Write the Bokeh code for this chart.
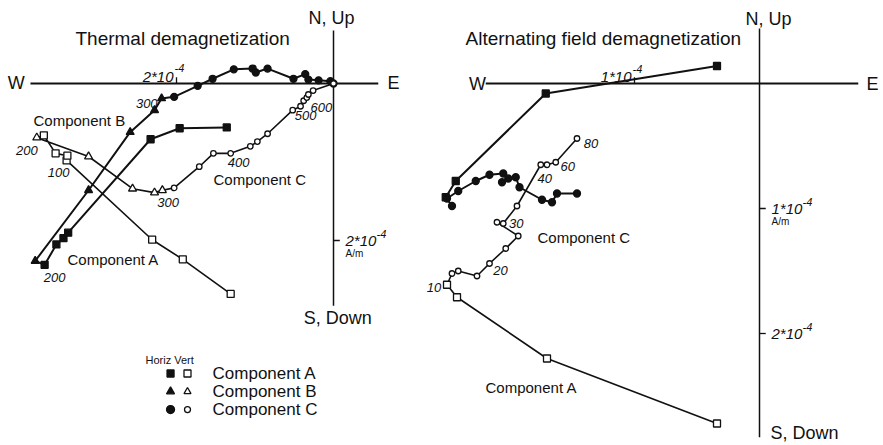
from bokeh.plotting import figure
from bokeh.models import Range1d
from bokeh.core.properties import value
from bokeh.embed import file_html
from bokeh.resources import INLINE

# Zijderveld diagrams, values in units of 1e-4 A/m.
# Horizontal projection: (East, North); vertical projection: (East, Up).

# ---- Thermal demagnetization ----
th_a_h_east = [-1.36, -1.96, -2.33, -3.38, -3.44, -3.53, -3.68]
th_a_h_north = [-0.56, -0.57, -0.71, -1.90, -1.97, -2.05, -2.31]
th_a_v_east = [-1.31, -1.92, -2.31, -3.40, -3.39, -3.54, -3.69]
th_a_v_up = [-2.68, -2.24, -1.99, -0.98, -0.92, -0.89, -0.66]

th_b_h_east = [-3.80, -3.12, -2.59, -2.28, -2.19]
th_b_h_north = [-2.26, -1.36, -0.62, -0.34, -0.19]
th_b_v_east = [-3.78, -3.12, -2.56, -2.28, -2.18]
th_b_v_up = [-0.69, -0.93, -1.34, -1.39, -1.36]

th_c_h_east = [-2.03, -1.73, -1.54, -1.27, -1.03, -0.99, -0.84, -0.51, -0.36, -0.32, -0.19, -0.04, 0.0]
th_c_h_north = [-0.17, -0.03, 0.06, 0.18, 0.19, 0.14, 0.19, 0.06, 0.12, 0.05, 0.04, 0.03, 0.0]
th_c_v_east = [-2.03, -1.71, -1.53, -1.31, -1.06, -0.97, -0.84, -0.52, -0.42, -0.38, -0.34, -0.32, -0.26, 0.0]
th_c_v_up = [-1.33, -1.06, -0.89, -0.89, -0.80, -0.74, -0.64, -0.34, -0.29, -0.22, -0.18, -0.14, -0.09, 0.0]

th_ticks = [2]

# ---- Alternating field demagnetization ----
af_a_h_east = [-0.34, -1.71, -2.43, -2.51]
af_a_h_north = [0.14, -0.08, -0.78, -0.91]
af_a_v_east = [-0.34, -1.70, -2.42, -2.50]
af_a_v_up = [-2.72, -2.20, -1.71, -1.61]

af_c_h_east = [-2.46, -2.50, -2.41, -2.27, -2.16, -2.05, -2.01, -2.06, -1.95, -1.92, -1.74, -1.66, -1.62, -1.46]
af_c_h_north = [-0.98, -0.92, -0.86, -0.78, -0.73, -0.72, -0.76, -0.79, -0.75, -0.83, -0.93, -0.95, -0.88, -0.88]
af_c_v_east = [-2.46, -2.41, -2.26, -2.16, -2.03, -1.93, -2.10, -2.05, -1.94, -1.75, -1.70, -1.63, -1.46]
af_c_v_up = [-1.52, -1.50, -1.54, -1.44, -1.32, -1.22, -1.11, -1.12, -0.98, -0.65, -0.65, -0.63, -0.44]

af_ticks = [1, 2]

# step labels: (text, east, up/north, x offset px, y offset px, alignment)
th_steps = [
    ("300", th_b_h_east[-1], th_b_h_north[-1], -4, 5, "right"),
    ("200", th_b_v_east[0], th_b_v_up[0], 1, 13, "right"),
    ("100", th_a_v_east[5], th_a_v_up[5], 3, 19, "center"),
    ("200", th_a_h_east[-1], th_a_h_north[-1], 10, 13, "center"),
    ("300", th_c_v_east[0], th_c_v_up[0], -6, 15, "center"),
    ("400", th_c_v_east[3], th_c_v_up[3], 8, 9, "center"),
    ("500", th_c_v_east[7], th_c_v_up[7], 13, 5, "center"),
    ("600", th_c_v_east[11], th_c_v_up[11], 13, 13, "center"),
]
af_steps = [
    ("10", af_a_v_east[-1], af_a_v_up[-1], -13, 3, "center"),
    ("20", af_c_v_east[3], af_c_v_up[3], 11, 7, "center"),
    ("30", af_c_v_east[7], af_c_v_up[7], 13, 0, "center"),
    ("40", af_c_v_east[9], af_c_v_up[9], 4, 14, "center"),
    ("60", af_c_v_east[11], af_c_v_up[11], 12, 4, "center"),
    ("80", af_c_v_east[12], af_c_v_up[12], 14, 5, "center"),
]

FONT = value("Liberation Sans")
INK = "#111111"

p = figure(width=883, height=445,
           x_range=Range1d(-4.242, 7.006), y_range=Range1d(-4.611, 1.057),
           output_backend="svg", toolbar_location=None,
           x_axis_location=None, y_axis_location=None, min_border=0)
p.extra_x_ranges = {"af": Range1d(-6.072, 0.992)}
p.extra_y_ranges = {"af": Range1d(-2.896, 0.664)}
p.outline_line_color = None
p.grid.grid_line_color = None
p.background_fill_color = "white"
p.border_fill_color = "white"


def rng(af):
    return dict(x_range_name="af", y_range_name="af") if af else {}


def txt(x, y, s, size, af=False, align="left", baseline="middle", italic=False, dx=0, dy=0):
    p.text(x=[x], y=[y], text=[s], text_font=FONT, text_font_size=f"{size}px",
           text_align=align, text_baseline=baseline, text_color=INK,
           text_font_style="italic" if italic else "normal",
           x_offset=dx, y_offset=dy, **rng(af))


def series(xs, ys, marker, filled, size, af=False):
    p.scatter(xs, ys, marker=marker, size=size, line_color=INK, line_width=1.3,
              fill_color=INK if filled else "white", **rng(af))


# ---- axes crosses ----
def cross(af, x0, x1, y0, y1, ticks, tick_len):
    p.segment(x0=[x0], y0=[0], x1=[x1], y1=[0], line_color=INK, line_width=2, **rng(af))
    p.segment(x0=[0], y0=[y0], x1=[0], y1=[y1], line_color=INK, line_width=1.5, **rng(af))
    p.segment(x0=[-t for t in ticks[:1]], y0=[0], x1=[-t for t in ticks[:1]], y1=[tick_len],
              line_color=INK, line_width=1.3, **rng(af))
    p.segment(x0=[0] * len(ticks), y0=[-t for t in ticks], x1=[tick_len] * len(ticks),
              y1=[-t for t in ticks], line_color=INK, line_width=1.3, **rng(af))


cross(False, -3.86, 0.57, -2.83, 0.675, th_ticks, 0.08)
cross(True, -2.19, 0.79, -2.83, 0.44, af_ticks, 0.05)


def tick_labels(af, ticks):
    t0 = ticks[0]
    txt(-t0, 0, f"{t0}*10", 15, af, align="right", baseline="alphabetic", italic=True, dx=-3, dy=-7)
    txt(-t0, 0, "-4", 11, af, align="left", baseline="alphabetic", italic=True, dx=-2, dy=-15)
    for i, t in enumerate(ticks):
        txt(0, -t, f"{t}*10", 15, af, align="left", baseline="middle", italic=True, dx=12, dy=0)
        txt(0, -t, "-4", 11, af, align="left", baseline="middle", italic=True, dx=43, dy=-7)
        if i == 0:
            txt(0, -t, "A/m", 10, af, align="left", baseline="middle", dx=12, dy=13)


tick_labels(False, th_ticks)
tick_labels(True, af_ticks)

# ---- data polylines ----
p.line(th_a_h_east + th_b_h_east + th_c_h_east, th_a_h_north + th_b_h_north + th_c_h_north,
       line_color=INK, line_width=2)
p.line(th_a_v_east + th_b_v_east + th_c_v_east, th_a_v_up + th_b_v_up + th_c_v_up,
       line_color=INK, line_width=1.6)
p.line(af_a_h_east + af_c_h_east, af_a_h_north + af_c_h_north,
       line_color=INK, line_width=2, **rng(True))
p.line(af_a_v_east + af_c_v_east, af_a_v_up + af_c_v_up,
       line_color=INK, line_width=1.6, **rng(True))

series(th_a_h_east, th_a_h_north, "square", True, 7)
series(th_a_v_east, th_a_v_up, "square", False, 7)
series(th_b_h_east, th_b_h_north, "triangle", True, 8)
series(th_b_v_east, th_b_v_up, "triangle", False, 8)
series(th_c_h_east, th_c_h_north, "circle", True, 7)
series(th_c_v_east, th_c_v_up, "circle", False, 5.5)

series(af_a_h_east, af_a_h_north, "square", True, 7, af=True)
series(af_a_v_east, af_a_v_up, "square", False, 7, af=True)
series(af_c_h_east, af_c_h_north, "circle", True, 7, af=True)
series(af_c_v_east, af_c_v_up, "circle", False, 5.5, af=True)

for s, x, y, dx, dy, al in th_steps:
    txt(x, y, s, 13, False, align=al, italic=True, dx=dx, dy=dy)
for s, x, y, dx, dy, al in af_steps:
    txt(x, y, s, 13, True, align=al, italic=True, dx=dx, dy=dy)

# ---- titles and direction labels ----
txt(-3.287, 0.573, "Thermal demagnetization", 19)
txt(-0.318, 0.828, "N, Up", 18)
txt(-4.04, 0, "W", 18, align="center")
txt(0.764, 0, "E", 18, align="center")
txt(-0.38, -2.99, "S, Down", 18)

txt(-2.352, 0.36, "Alternating field demagnetization", 19, af=True)
txt(-0.112, 0.52, "N, Up", 18, af=True)
txt(-2.256, 0, "W", 18, af=True, align="center")
txt(0.904, 0, "E", 18, af=True, align="center")
txt(0.088, -2.792, "S, Down", 18, af=True)

# ---- component names ----
txt(-3.822, -0.471, "Component B", 15)
txt(-3.389, -2.242, "Component A", 15)
txt(-1.529, -1.223, "Component C", 15)
txt(-1.776, -1.232, "Component C", 15, af=True)
txt(-2.192, -2.432, "Component A", 15, af=True)

# ---- key: horizontal (filled) and vertical (open) symbols ----
key_names = ["Component A", "Component B", "Component C"]
key_markers = ["square", "triangle", "circle"]
key_rows = [-3.694, -3.924, -4.153]
txt(-2.395, -3.516, "Horiz Vert", 11)
for name, mk, yy in zip(key_names, key_markers, key_rows):
    series([-2.076], [yy], mk, True, 8 if mk != "square" else 7)
    series([-1.860], [yy], mk, False, 7 if mk == "square" else (7 if mk == "triangle" else 6))
    txt(-1.541, yy, name, 17)

open("out.html", "w").write(file_html(p, INLINE))
